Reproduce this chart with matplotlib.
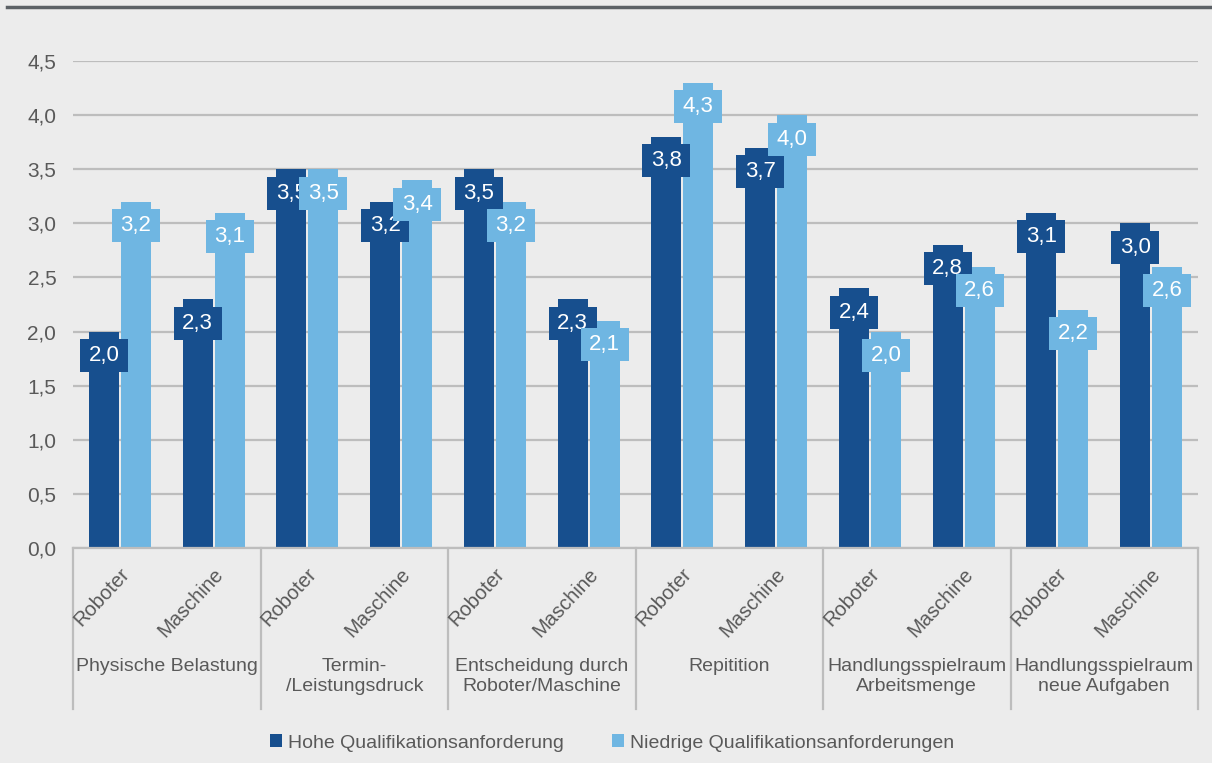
import matplotlib.pyplot as plt
import matplotlib.transforms as mtransforms
from matplotlib.lines import Line2D
from matplotlib.patches import Patch, Rectangle

# data
groups = [
    "Physische Belastung",
    "Termin-\n/Leistungsdruck",
    "Entscheidung durch\nRoboter/Maschine",
    "Repitition",
    "Handlungsspielraum\nArbeitsmenge",
    "Handlungsspielraum\nneue Aufgaben",
]
subcats = ["Roboter", "Maschine"]
hohe = [2.0, 2.3, 3.5, 3.2, 3.5, 2.3, 3.8, 3.7, 2.4, 2.8, 3.1, 3.0]
niedrige = [3.2, 3.1, 3.5, 3.4, 3.2, 2.1, 4.3, 4.0, 2.0, 2.6, 2.2, 2.6]
series_names = ["Hohe Qualifikationsanforderung", "Niedrige Qualifikationsanforderungen"]
yticks = [0.0, 0.5, 1.0, 1.5, 2.0, 2.5, 3.0, 3.5, 4.0, 4.5]

DARK = "#174f8e"
LIGHT = "#6fb6e2"
BG = "#ececec"
GRID = "#bdbdbd"
TXT = "#595959"

plt.rcParams["font.family"] = ["Liberation Sans", "DejaVu Sans"]

fig = plt.figure(figsize=(12.12, 7.63), dpi=100, facecolor=BG)
ax = fig.add_axes([73 / 1212, 215 / 763, 1125 / 1212, 487 / 763])
ax.set_facecolor(BG)

n = len(hohe)
x = list(range(n))
w = 0.32
off = 0.17
ax.bar([i - off for i in x], hohe, width=w, color=DARK, zorder=2)
ax.bar([i + off for i in x], niedrige, width=w, color=LIGHT, zorder=2)


# value labels: box drawn in pixels, anchored 24 px below the bar top
def label(xpos, val, color, z):
    tr = fig.dpi_scale_trans + mtransforms.ScaledTranslation(xpos, val, ax.transData)
    ax.add_patch(Rectangle((-0.24, -0.405), 0.48, 0.33, transform=tr,
                           facecolor=color, edgecolor="none", zorder=z, clip_on=False))
    ax.annotate(f"{val:.1f}".replace(".", ","), (xpos, val), xytext=(0, -24),
                textcoords="offset pixels", ha="center", va="center",
                color="white", fontsize=16, zorder=z + 0.5)


for i in x:
    label(i - off, hohe[i], DARK, 3)
for i in x:
    label(i + off, niedrige[i], LIGHT, 4)

ax.set_xlim(-0.5, n - 0.5)
ax.set_ylim(0, 4.5)
ax.set_yticks(yticks)
ax.set_yticklabels([f"{t:.1f}".replace(".", ",") for t in yticks], color=TXT, fontsize=15)
ax.tick_params(axis="y", length=0, pad=12)
ax.set_xticks([])
ax.yaxis.grid(True, color=GRID, linewidth=1.6, zorder=0)
ax.set_axisbelow(True)
for s in ["top", "right", "left"]:
    ax.spines[s].set_visible(False)
ax.spines["bottom"].set_color(GRID)
ax.spines["bottom"].set_linewidth(1.6)

# category axis labels
trans = mtransforms.blended_transform_factory(ax.transData, ax.transAxes)
for i in x:
    ax.text(i + 0.14, -0.034, subcats[i % 2], transform=trans, rotation=47,
            ha="right", va="top", color=TXT, fontsize=14.5)
for g, name in enumerate(groups):
    ax.text(2 * g + 0.5, -0.225, name, transform=trans, ha="center", va="top",
            color=TXT, fontsize=14, linespacing=1.3)
for b in range(len(groups) + 1):
    ax.plot([2 * b - 0.5, 2 * b - 0.5], [0, -0.33], transform=trans,
            color=GRID, linewidth=1.6, clip_on=False)

# top rule
fig.add_artist(Line2D([7 / 1212, 1], [1 - 7 / 763, 1 - 7 / 763],
                      color="#5c6166", linewidth=2.5, transform=fig.transFigure))

handles = [Patch(facecolor=DARK), Patch(facecolor=LIGHT)]
fig.legend(handles, series_names, loc="center", bbox_to_anchor=(612 / 1212, 1 - 743 / 763),
           ncol=2, frameon=False, handlelength=0.6, handleheight=0.6, handletextpad=0.3,
           columnspacing=2.5, prop={"size": 14}, labelcolor=TXT)

fig.savefig("out.png", dpi=100, facecolor=BG)
